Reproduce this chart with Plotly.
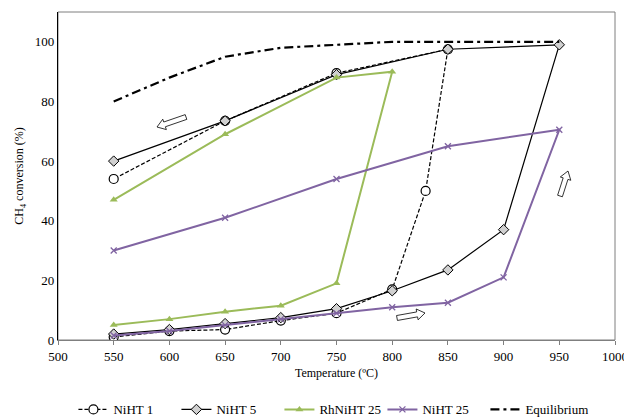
import math
import plotly.graph_objects as go

# ---- data (heating branch then cooling branch) ----
niht1_T = [550, 600, 650, 700, 750, 800, 830, 850, 750, 650, 550]
niht1_X = [1, 3, 3.5, 6.5, 9, 17, 50, 97.5, 89.5, 73.5, 54]

niht5_T = [550, 600, 650, 700, 750, 800, 850, 900, 950, 850, 750, 650, 550]
niht5_X = [2, 3.5, 5.5, 7.5, 10.5, 16.5, 23.5, 37, 99, 97.5, 89, 73.5, 60]

rh25_T = [550, 600, 650, 700, 750, 800, 750, 650, 550]
rh25_X = [5, 7, 9.5, 11.5, 19, 90, 88, 69, 47]

niht25_T = [550, 600, 650, 700, 750, 800, 850, 900, 950, 850, 750, 650, 550]
niht25_X = [1.5, 3, 5, 7, 9, 11, 12.5, 21, 70.5, 65, 54, 41, 30]

eq_T = [550, 600, 650, 700, 750, 800, 850, 900, 950]
eq_X = [80, 88, 95, 98, 99, 100, 100, 100, 100]

x_ticks = [500, 550, 600, 650, 700, 750, 800, 850, 900, 950, 1000]
y_ticks = [0, 20, 40, 60, 80, 100]

FONT = "'Liberation Serif', 'DejaVu Serif', serif"
GREEN = "#9bbb59"
PURPLE = "#8064a2"

fig = go.Figure()
fig.add_trace(go.Scatter(x=niht1_T, y=niht1_X, name="NiHT 1", mode="lines+markers",
                         line=dict(color="black", width=1.2, dash="4px,2px"),
                         marker=dict(symbol="circle", size=9, color="white",
                                     line=dict(color="black", width=1.2))))
fig.add_trace(go.Scatter(x=niht5_T, y=niht5_X, name="NiHT 5", mode="lines+markers",
                         line=dict(color="black", width=1.2),
                         marker=dict(symbol="diamond", size=8, color="#d0d0d0",
                                     line=dict(color="black", width=1))))
fig.add_trace(go.Scatter(x=rh25_T, y=rh25_X, name="RhNiHT 25", mode="lines+markers",
                         line=dict(color=GREEN, width=2),
                         marker=dict(symbol="triangle-up", size=7, color=GREEN)))
fig.add_trace(go.Scatter(x=niht25_T, y=niht25_X, name="NiHT 25", mode="lines+markers",
                         line=dict(color=PURPLE, width=2),
                         marker=dict(symbol="x-thin", size=6,
                                     line=dict(color=PURPLE, width=1.3))))
fig.add_trace(go.Scatter(x=eq_T, y=eq_X, name="Equilibrium", mode="lines",
                         line=dict(color="black", width=2.2, dash="9px,4px,3px,4px")))

# page offset (default body margin) and figure size
OFF = 8
W, H = 632 - OFF, 417 - OFF
# plot area in reference pixels, converted to figure pixels
L, R, T, B = 58 - OFF, 615 - OFF, 12 - OFF, 340 - OFF


def arrow_path(x0, y0, x1, y1, shaft=5.0, head=11.0, head_len=8.0):
    """Block arrow from tail (x0,y0) to tip (x1,y1), reference pixels -> paper path."""
    x0, y0, x1, y1 = x0 - OFF, y0 - OFF, x1 - OFF, y1 - OFF
    dx, dy = x1 - x0, y1 - y0
    ln = math.hypot(dx, dy)
    ux, uy = dx / ln, dy / ln
    nx, ny = -uy, ux
    bx, by = x1 - ux * head_len, y1 - uy * head_len
    pts = [
        (x0 + nx * shaft / 2, y0 + ny * shaft / 2),
        (bx + nx * shaft / 2, by + ny * shaft / 2),
        (bx + nx * head / 2, by + ny * head / 2),
        (x1, y1),
        (bx - nx * head / 2, by - ny * head / 2),
        (bx - nx * shaft / 2, by - ny * shaft / 2),
        (x0 - nx * shaft / 2, y0 - ny * shaft / 2),
    ]
    conv = [((px - L) / (R - L), (B - py) / (B - T)) for px, py in pts]
    return "M " + " L ".join(f"{a:.5f},{b:.5f}" for a, b in conv) + " Z"


shapes = [
    dict(type="rect", xref="paper", yref="paper", x0=0, y0=0, x1=1, y1=1,
         line=dict(color="#7f7f7f", width=1), layer="below"),
]
for (x0, y0, x1, y1) in [(186, 117, 157, 127), (397, 318, 425, 313), (560, 196, 568, 171)]:
    shapes.append(dict(type="path", xref="paper", yref="paper", path=arrow_path(x0, y0, x1, y1),
                       line=dict(color="black", width=0.8), fillcolor="white"))

fig.update_layout(
    width=W, height=H,
    margin=dict(l=L, r=W - R, t=T, b=H - B, autoexpand=False),
    paper_bgcolor="white", plot_bgcolor="white",
    font=dict(family=FONT, size=13, color="black"),
    showlegend=True,
    legend=dict(orientation="h", x=0.49, xanchor="center", y=-0.166, yanchor="top",
                font=dict(family=FONT, size=13), entrywidth=58, itemwidth=30,
                tracegroupgap=0),
    shapes=shapes,
    xaxis=dict(range=[500, 1000], tickvals=x_ticks, ticktext=[str(v) for v in x_ticks],
               showgrid=False, zeroline=False, showline=True, linecolor="#7f7f7f", linewidth=1,
               ticks="outside", ticklen=4, tickcolor="#7f7f7f",
               title=dict(text="Temperature (ºC)", font=dict(family=FONT, size=12), standoff=6),
               tickfont=dict(family=FONT, size=13)),
    yaxis=dict(range=[0, 110], tickvals=y_ticks, ticktext=[str(v) for v in y_ticks],
               showgrid=False, zeroline=False, showline=True, linecolor="black", linewidth=1.2,
               ticks="", title=dict(text="CH<sub>4</sub> conversion (%)", font=dict(family=FONT, size=12),
                                    standoff=8),
               tickfont=dict(family=FONT, size=13)),
)

fig.write_html("out.html")
